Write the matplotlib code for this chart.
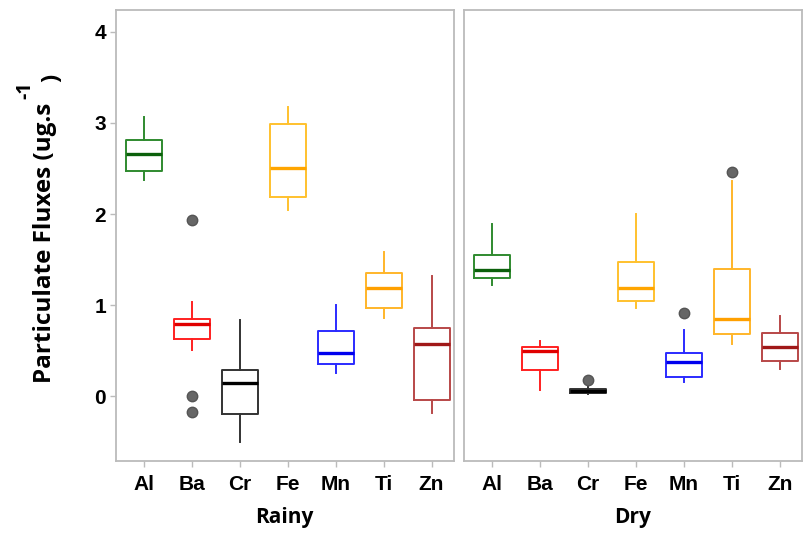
import matplotlib
matplotlib.use("Agg")
import matplotlib.pyplot as plt

plt.rcParams['font.family'] = ['Liberation Sans', 'DejaVu Sans']

elements = ["Al", "Ba", "Cr", "Fe", "Mn", "Ti", "Zn"]
seasons = ["Rainy", "Dry"]

# per-element summary statistics: whisker low, Q1, median, Q3, whisker high
rainy_whislo = [2.37, 0.51, -0.50, 2.04, 0.26, 0.86, -0.18]
rainy_q1 =     [2.47, 0.63, -0.19, 2.19, 0.36, 0.97, -0.04]
rainy_med =    [2.66, 0.80, 0.15, 2.51, 0.48, 1.19, 0.57]
rainy_q3 =     [2.81, 0.85, 0.29, 2.99, 0.72, 1.35, 0.75]
rainy_whishi = [3.06, 1.04, 0.84, 3.17, 1.00, 1.58, 1.32]
rainy_fliers = [[], [1.93, 0.01, -0.17], [], [], [], [], []]

dry_whislo = [1.22, 0.07, 0.03, 0.97, 0.16, 0.58, 0.30]
dry_q1 =     [1.30, 0.29, 0.04, 1.05, 0.21, 0.69, 0.39]
dry_med =    [1.39, 0.50, 0.06, 1.19, 0.38, 0.85, 0.54]
dry_q3 =     [1.55, 0.54, 0.08, 1.47, 0.48, 1.40, 0.70]
dry_whishi = [1.89, 0.61, 0.10, 2.00, 0.73, 2.36, 0.88]
dry_fliers = [[], [], [0.18], [], [0.92], [2.46], []]

box_colors = ["#2f8a2f", "#ff2020", "#333333", "#ffc12e", "#2b2bff", "#ffb62a", "#b84848"]
median_colors = ["#0b600b", "#e00000", "#000000", "#ffa500", "#0000ee", "#ffa000", "#a01818"]

y_ticks = [0, 1, 2, 3, 4]

fig = plt.figure(figsize=(8.10, 5.42), dpi=100)
ax_l = fig.add_axes([0.143, 0.149, 0.417, 0.833])
ax_r = fig.add_axes([0.573, 0.149, 0.417, 0.833], sharey=ax_l)

panels = [
    (ax_l, rainy_whislo, rainy_q1, rainy_med, rainy_q3, rainy_whishi, rainy_fliers),
    (ax_r, dry_whislo, dry_q1, dry_med, dry_q3, dry_whishi, dry_fliers),
]

for (ax, wlo, q1, med, q3, whi, fl), season in zip(panels, seasons):
    for i in range(len(elements)):
        stats = [dict(whislo=wlo[i], q1=q1[i], med=med[i], q3=q3[i],
                      whishi=whi[i], fliers=fl[i])]
        c = box_colors[i]
        ax.bxp(stats, positions=[i + 1], widths=0.75, showcaps=False,
               boxprops=dict(color=c, linewidth=1.4),
               whiskerprops=dict(color=c, linewidth=1.4),
               medianprops=dict(color=median_colors[i], linewidth=2.4),
               flierprops=dict(marker='o', markerfacecolor='#666666',
                               markeredgecolor='#555555', markersize=7.5))
    ax.set_xlim(0.42, 7.46)
    ax.set_xticks(range(1, len(elements) + 1))
    ax.set_xticklabels(elements, fontsize=15, fontweight='bold')
    ax.set_xlabel(season, fontsize=15, fontweight='bold', family='Open Sans', labelpad=9)
    for s in ax.spines.values():
        s.set_color('#bbbbbb')
        s.set_linewidth(1.3)
    ax.tick_params(axis='both', color='#bbbbbb', length=4, width=1)
    ax.tick_params(axis='x', pad=6)
    ax.tick_params(axis='y', pad=3)

ax_l.set_ylim(-0.71, 4.24)
ax_l.set_yticks(y_ticks)
ax_l.set_yticklabels([str(t) for t in y_ticks], fontsize=15, fontweight='bold')
ax_r.tick_params(axis='y', left=False, labelleft=False)

# y-axis title, with a raised "-1" exponent after "ug.s"
fig.text(0.056, 0.293, "Particulate Fluxes (ug.s", rotation=90, ha='center',
         va='bottom', fontsize=17.5, fontweight='bold', family='Open Sans')
fig.text(0.031, 0.834, "-1", rotation=90, ha='center', va='center',
         fontsize=14, fontweight='bold', family='Open Sans')
fig.text(0.064, 0.856, ")", rotation=90, ha='center', va='center',
         fontsize=17.5, fontweight='bold', family='Open Sans')

fig.savefig("out.png", dpi=100)
